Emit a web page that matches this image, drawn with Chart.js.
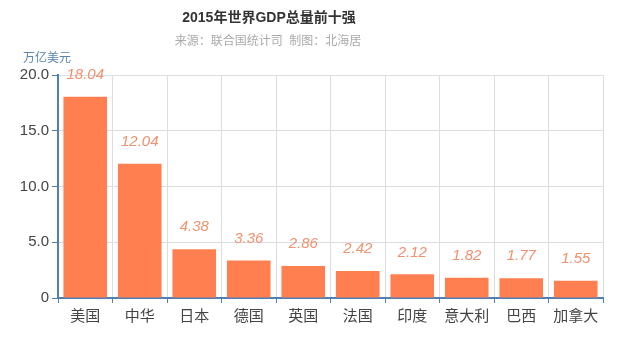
<!DOCTYPE html>
<html>
<head>
<meta charset="utf-8">
<script src="https://cdn.jsdelivr.net/npm/chart.js@4"></script>
<style>
    html, body { margin: 0; padding: 0; background: #fff; }
    #wrap { width: 640px; height: 339px; }
</style>
</head>
<body>
<div id="wrap"><canvas id="gdpChart" width="640" height="339"></canvas></div>
<script>
// Chart data
const countries = ['美国', '中华', '日本', '德国', '英国', '法国', '印度', '意大利', '巴西', '加拿大'];
const gdpValues = [18.04, 12.04, 4.38, 3.36, 2.86, 2.42, 2.12, 1.82, 1.77, 1.55];
const yTicks = [0, 5, 10, 15, 20];

const FONT = '"Liberation Sans", "Noto Sans CJK SC", sans-serif';
const AXIS_BLUE = '#4f7fb3';

// Title, subtitle and unit label
const headerPlugin = {
    id: 'header',
    afterDraw(chart) {
        const ctx = chart.ctx;
        ctx.save();
        ctx.textAlign = 'center';
        ctx.textBaseline = 'middle';
        ctx.fillStyle = '#333';
        ctx.font = 'bold 14px ' + FONT;
        ctx.fillText('2015年世界GDP总量前十强', 269, 18);
        ctx.fillStyle = '#aaa';
        ctx.font = '12px ' + FONT;
        ctx.fillText('来源：联合国统计司  制图：北海居', 268, 42);
        ctx.fillStyle = '#5b84b1';
        ctx.font = '12px ' + FONT;
        ctx.fillText('万亿美元', 47, 59);
        ctx.restore();
    }
};

// Value labels above bars
const valueLabelPlugin = {
    id: 'valueLabels',
    afterDatasetsDraw(chart) {
        const ctx = chart.ctx;
        const meta = chart.getDatasetMeta(0);
        ctx.save();
        ctx.textAlign = 'center';
        ctx.textBaseline = 'middle';
        ctx.fillStyle = '#f0916f';
        ctx.font = 'italic 15px ' + FONT;
        meta.data.forEach((bar, i) => {
            ctx.fillText(gdpValues[i].toFixed(2), bar.x, bar.y - 22);
        });
        ctx.restore();
    }
};

new Chart(document.getElementById('gdpChart'), {
    type: 'bar',
    data: {
        labels: countries,
        datasets: [{
            data: gdpValues,
            backgroundColor: '#ff7f50',
            barPercentage: 0.8,
            categoryPercentage: 1.0
        }]
    },
    options: {
        responsive: false,
        animation: false,
        layout: { padding: { top: 75, right: 37, bottom: 0, left: 0 } },
        plugins: {
            legend: { display: false },
            tooltip: { enabled: false }
        },
        scales: {
            x: {
                offset: true,
                grid: {
                    offset: true,
                    color: '#dadde3',
                    tickColor: AXIS_BLUE,
                    tickLength: 5
                },
                border: { color: AXIS_BLUE, width: 2 },
                ticks: { color: '#444', font: { family: FONT, size: 15 }, padding: 5 },
                afterFit(scale) { scale.height = 41; }
            },
            y: {
                min: 0,
                max: 20,
                afterBuildTicks(scale) {
                    scale.ticks = yTicks.map(v => ({ value: v }));
                },
                grid: {
                    color: '#dadde3',
                    tickColor: AXIS_BLUE,
                    tickLength: 6
                },
                border: { color: AXIS_BLUE, width: 2 },
                ticks: {
                    color: '#444',
                    font: { family: FONT, size: 15 },
                    padding: 3,
                    callback: v => v === 0 ? '0' : v.toFixed(1)
                },
                afterFit(scale) { scale.width = 58; }
            }
        }
    },
    plugins: [headerPlugin, valueLabelPlugin]
});
</script>
</body>
</html>
